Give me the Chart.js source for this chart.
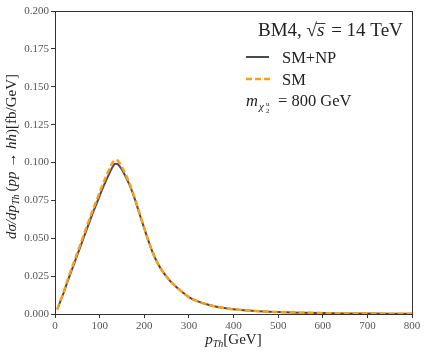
<!DOCTYPE html>
<html>
<head>
<meta charset="utf-8">
<script src="https://cdn.jsdelivr.net/npm/chart.js@4"></script>
<style>
  html, body { margin: 0; padding: 0; background: #fff; }
  #wrap { width: 427px; height: 356px; }
</style>
</head>
<body>
<div id="wrap"><canvas id="ptChart"></canvas></div>
<script>
// p_T,h values (GeV)
const ptValues = [5, 10, 20, 30, 40, 50, 60, 70, 80, 90, 100, 110, 115, 120, 125, 130, 135, 140, 145, 150, 160, 170, 180, 190, 200, 210, 220, 230, 240, 250, 260, 275, 300, 325, 350, 375, 400, 450, 500, 550, 600, 650, 700, 750, 800];
// dsigma/dpT (fb/GeV)
const smNpValues = [0.0030, 0.0068, 0.0145, 0.0230, 0.0310, 0.0390, 0.0470, 0.0550, 0.0630, 0.0705, 0.0780, 0.0852, 0.0885, 0.0917, 0.0948, 0.0975, 0.0992, 0.0990, 0.0975, 0.0952, 0.0897, 0.0830, 0.0748, 0.0655, 0.0565, 0.0477, 0.0398, 0.0335, 0.0286, 0.0246, 0.0211, 0.0170, 0.0112, 0.0078, 0.0056, 0.0041, 0.0031, 0.0019, 0.0013, 0.0009, 0.0006, 0.0004, 0.0003, 0.0002, 0.0002];
const smValues = [0.0032, 0.0072, 0.0152, 0.0240, 0.0322, 0.0404, 0.0486, 0.0568, 0.0650, 0.0727, 0.0803, 0.0877, 0.0912, 0.0945, 0.0977, 0.1003, 0.1018, 0.1013, 0.0996, 0.0970, 0.0910, 0.0838, 0.0754, 0.0660, 0.0568, 0.0479, 0.0399, 0.0335, 0.0286, 0.0246, 0.0211, 0.0170, 0.0112, 0.0078, 0.0056, 0.0041, 0.0031, 0.0019, 0.0013, 0.0009, 0.0006, 0.0004, 0.0003, 0.0002, 0.0002];
const xTicks = [0, 100, 200, 300, 400, 500, 600, 700, 800];
const yTicks = [0, 0.025, 0.05, 0.075, 0.1, 0.125, 0.15, 0.175, 0.2];

const serif = '"Liberation Serif", "DejaVu Serif", serif';
const darkColor = '#46485f';
const orangeColor = '#ffa010';

// draw a row of text pieces, each with its own font and vertical shift
function drawRich(ctx, pieces, x, y, align) {
  let total = 0;
  pieces.forEach(p => { ctx.font = p.f; p.w = ctx.measureText(p.t).width; total += p.w + (p.gap || 0); });
  let cx = align === 'center' ? x - total / 2 : x;
  pieces.forEach(p => {
    ctx.font = p.f;
    ctx.fillText(p.t, cx, y + (p.dy || 0));
    if (p.over) {
      ctx.fillRect(cx - 1, y - 13, p.w + 2, 0.9);
    }
    cx += p.w + (p.gap || 0);
  });
  return total;
}

const textPlugin = {
  id: 'textPlugin',
  afterDraw(chart) {
    const ctx = chart.ctx;
    const a = chart.chartArea;
    ctx.save();
    // full frame
    ctx.strokeStyle = '#333';
    ctx.lineWidth = 1;
    ctx.strokeRect(a.left + 0.5, a.top + 0.5, a.right - a.left, a.bottom - a.top);

    ctx.fillStyle = '#222';
    ctx.textBaseline = 'alphabetic';
    const it = 'italic 15px ' + serif;
    const rm = '15px ' + serif;
    const sub = 'italic 10px ' + serif;

    // x title
    drawRich(ctx, [
      { t: 'p', f: it },
      { t: 'Th', f: sub, dy: 3 },
      { t: '[GeV]', f: rm }
    ], (a.left + a.right) / 2, 344, 'center');

    // y title
    ctx.save();
    ctx.translate(16, (a.top + a.bottom) / 2 - 6);
    ctx.rotate(-Math.PI / 2);
    drawRich(ctx, [
      { t: 'd\u03C3/dp', f: it },
      { t: 'Th', f: sub, dy: 3, gap: 3 },
      { t: '(', f: rm },
      { t: 'pp', f: it },
      { t: ' \u2192 ', f: rm },
      { t: 'hh', f: it },
      { t: ')[fb/GeV]', f: rm }
    ], 0, 0, 'center');
    ctx.restore();

    // legend block
    const lx = 246;
    const big = '19px ' + serif;
    drawRich(ctx, [
      { t: 'BM4, ', f: big },
      { t: '\u221A', f: big },
      { t: 's', f: 'italic 19px ' + serif, over: true, gap: 2 },
      { t: ' = 14 TeV', f: big }
    ], 258, 36);

    ctx.lineWidth = 2;
    ctx.strokeStyle = darkColor;
    ctx.beginPath(); ctx.moveTo(lx, 57); ctx.lineTo(lx + 23, 57); ctx.stroke();
    ctx.lineWidth = 2.5;
    ctx.strokeStyle = orangeColor;
    ctx.setLineDash([6, 3]);
    ctx.beginPath(); ctx.moveTo(lx, 79); ctx.lineTo(lx + 25, 79); ctx.stroke();
    ctx.setLineDash([]);

    const lab = '16.5px ' + serif;
    drawRich(ctx, [{ t: 'SM+NP', f: lab }], 282, 63);
    drawRich(ctx, [{ t: 'SM', f: lab }], 282, 85);

    // m_{chi_2^u} = 800 GeV
    ctx.font = 'italic 16.5px ' + serif;
    ctx.fillText('m', lx, 106);
    ctx.font = 'italic 11px ' + serif;
    ctx.fillText('\u03C7', lx + 13, 110);
    ctx.font = '7px ' + serif;
    ctx.fillText('u', lx + 20, 106);
    ctx.fillText('2', lx + 20, 113);
    ctx.font = lab;
    ctx.fillText('= 800 GeV', lx + 32, 106);
    ctx.restore();
  }
};

new Chart(document.getElementById('ptChart').getContext('2d'), {
  type: 'scatter',
  data: {
    datasets: [{
      label: 'SM',
      data: ptValues.map((x, i) => ({ x: x, y: smValues[i] })),
      showLine: true,
      borderColor: orangeColor,
      borderWidth: 2.5,
      borderDash: [6, 3],
      pointRadius: 0,
      cubicInterpolationMode: 'monotone',
      order: 1
    }, {
      label: 'SM+NP',
      data: ptValues.map((x, i) => ({ x: x, y: smNpValues[i] })),
      showLine: true,
      borderColor: darkColor,
      borderWidth: 2,
      pointRadius: 0,
      cubicInterpolationMode: 'monotone',
      order: 2
    }]
  },
  options: {
    responsive: true,
    maintainAspectRatio: false,
    animation: false,
    layout: { padding: { top: 11, right: 15, left: 0, bottom: 0 } },
    plugins: {
      legend: { display: false },
      tooltip: { enabled: false }
    },
    scales: {
      x: {
        type: 'linear',
        min: 0,
        max: 800,
        afterFit: s => { s.height = 42; },
        afterBuildTicks: s => { s.ticks = xTicks.map(v => ({ value: v })); },
        ticks: { color: '#555', font: { family: serif, size: 11 }, padding: 2, maxRotation: 0 },
        grid: { drawOnChartArea: false, drawTicks: true, tickLength: 4, color: '#333' },
        border: { color: '#333', width: 1 }
      },
      y: {
        min: 0,
        max: 0.2,
        afterFit: s => { s.width = 55; },
        afterBuildTicks: s => { s.ticks = yTicks.map(v => ({ value: v })); },
        ticks: { color: '#555', font: { family: serif, size: 11 }, padding: 2, callback: v => v.toFixed(3) },
        grid: { drawOnChartArea: false, drawTicks: true, tickLength: 4, color: '#333' },
        border: { color: '#333', width: 1 }
      }
    }
  },
  plugins: [textPlugin]
});
</script>
</body>
</html>
